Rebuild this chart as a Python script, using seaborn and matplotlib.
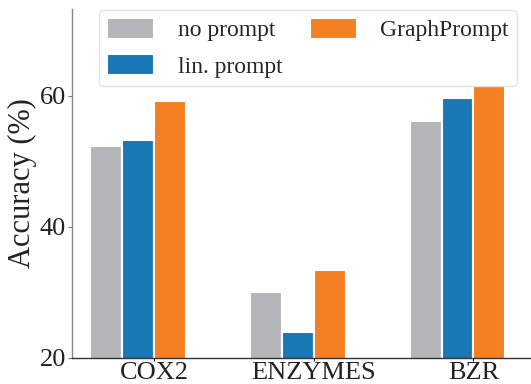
import numpy as np
import pandas as pd
import seaborn as sns
import matplotlib
matplotlib.use("Agg")
import matplotlib.pyplot as plt

# data
datasets = ["COX2", "ENZYMES", "BZR"]
methods = ["no prompt", "lin. prompt", "GraphPrompt"]
no_prompt = [52.4, 30.0, 56.2]
lin_prompt = [53.2, 24.0, 59.7]
graph_prompt = [59.2, 33.4, 61.5]
colors = ["#b4b5b9", "#1977b3", "#f58024"]

df = pd.DataFrame({
    "dataset": datasets * 3,
    "method": [m for m in methods for _ in datasets],
    "acc": no_prompt + lin_prompt + graph_prompt,
})

sns.set_style("white")
plt.rcParams["font.family"] = ["Liberation Serif", "DejaVu Serif"]

fig, ax = plt.subplots(figsize=(5.31, 3.84), dpi=100)
sns.barplot(data=df, x="dataset", y="acc", hue="method", order=datasets,
            hue_order=methods, palette=colors, saturation=1, width=0.6,
            edgecolor="white", linewidth=1.5, ax=ax)

ax.set_ylim(20, 73.3)
ax.set_xlim(-0.415, 2.46)
ax.set_yticks([20, 40, 60])
ax.set_xticks(np.arange(len(datasets)) + 0.1)
ax.set_xticklabels(datasets)
ax.tick_params(axis="both", labelsize=19, pad=1, length=3, width=0.8,
               colors="#222222", left=True, bottom=True)
ax.tick_params(axis="y", color="#777777")
ax.tick_params(axis="x", length=2)
ax.set_xlabel("")
ax.set_ylabel("Accuracy (%)", fontsize=22, labelpad=2, color="#222222")

sns.despine(ax=ax)
ax.spines["left"].set_color("#888888")
ax.spines["left"].set_linewidth(1.0)
ax.spines["bottom"].set_color("#333333")
ax.spines["bottom"].set_linewidth(1.0)

leg = ax.legend(ncol=2, fontsize=17, loc="upper right",
                bbox_to_anchor=(0.97, 0.997), frameon=True,
                handlelength=2.0, handleheight=0.95, columnspacing=1.15,
                handletextpad=1.0, borderpad=0.35, labelspacing=0.55,
                borderaxespad=0.0)
leg.get_frame().set_edgecolor("#dddddd")

fig.subplots_adjust(left=0.135, right=1.0, bottom=0.068, top=0.977)
fig.savefig("out.png", dpi=100)
